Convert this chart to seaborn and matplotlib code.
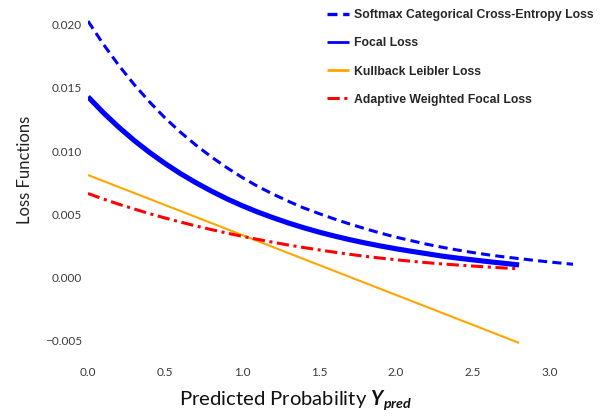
import numpy as np
import pandas as pd
import matplotlib
matplotlib.use("Agg")
import matplotlib.pyplot as plt
import seaborn as sns

# Predicted probability grid shared by the curves
x_grid = [0.0, 0.1, 0.2, 0.3, 0.4, 0.5, 0.6, 0.7, 0.8, 0.9,
          1.0, 1.1, 1.2, 1.3, 1.4, 1.5, 1.6, 1.7, 1.8, 1.9,
          2.0, 2.1, 2.2, 2.3, 2.4, 2.5, 2.6, 2.7, 2.8]

# Softmax categorical cross-entropy runs a little further
x_softmax = x_grid + [2.9, 3.0, 3.15]
softmax_ce = [0.02030, 0.01846, 0.01679, 0.01527, 0.01389, 0.01263, 0.01150, 0.01048,
              0.00955, 0.00870, 0.00792, 0.00722, 0.00660, 0.00603, 0.00550, 0.00505,
              0.00462, 0.00422, 0.00385, 0.00350, 0.00318, 0.00290, 0.00262, 0.00238,
              0.00216, 0.00196, 0.00178, 0.00162, 0.00148, 0.00134, 0.00121, 0.00103]

focal = [0.01430, 0.01304, 0.01189, 0.01084, 0.00989, 0.00902, 0.00822, 0.00750,
         0.00684, 0.00623, 0.00568, 0.00518, 0.00473, 0.00431, 0.00393, 0.00358,
         0.00327, 0.00298, 0.00272, 0.00248, 0.00226, 0.00206, 0.00187, 0.00168,
         0.00152, 0.00138, 0.00124, 0.00111, 0.00098]

x_kl = [0.0, 0.7, 1.4, 2.1, 2.8]
kl = [0.00810, 0.00478, 0.00145, -0.00187, -0.00520]

adaptive_focal = [0.00664, 0.00620, 0.00579, 0.00541, 0.00504, 0.00470, 0.00438, 0.00407,
                  0.00378, 0.00351, 0.00325, 0.00301, 0.00278, 0.00256, 0.00236, 0.00217,
                  0.00199, 0.00182, 0.00166, 0.00152, 0.00139, 0.00127, 0.00116, 0.00106,
                  0.00097, 0.00089, 0.00081, 0.00074, 0.00067]

labels = ["Softmax Categorical Cross-Entropy Loss", "Focal Loss",
          "Kullback Leibler Loss", "Adaptive Weighted Focal Loss"]

sns.set_style("white")
plt.rcParams["font.family"] = ["Lato", "DejaVu Sans"]
plt.rcParams["mathtext.fontset"] = "custom"
plt.rcParams["mathtext.it"] = "Lato:italic:bold"

fig = plt.figure(figsize=(6.07, 4.16), dpi=100)
ax = fig.add_axes([88 / 607, 1 - 359 / 416, (573 - 88) / 607, (359 - 5) / 416])

series = [
    (x_softmax, softmax_ce, labels[0], "blue", 2.2, (3.0, 1.7)),
    (x_grid, focal, labels[1], "blue", 3.7, None),
    (x_kl, kl, labels[2], "orange", 1.5, None),
    (x_grid, adaptive_focal, labels[3], "red", 2.2, (4.0, 1.5, 1.0, 1.5)),
]

for xs, ys, lab, col, lw, dash in series:
    df = pd.DataFrame({"x": xs, "y": ys})
    sns.lineplot(data=df, x="x", y="y", ax=ax, color=col, lw=lw, label=lab)
    line = ax.lines[-1]
    if dash is not None:
        line.set_dashes(dash)
    line.set_solid_capstyle("butt")

ax.margins(x=0)
ax.set_xticks([0.0, 0.5, 1.0, 1.5, 2.0, 2.5, 3.0])
ax.set_yticks([-0.005, 0.0, 0.005, 0.010, 0.015, 0.020])
ax.set_yticklabels(["\u22120.005", "0.000", "0.005", "0.010", "0.015", "0.020"])
ax.set_xticklabels(["0.0", "0.5", "1.0", "1.5", "2.0", "2.5", "3.0"])
ax.tick_params(axis="both", length=0, labelsize=8.5, colors="#3a3a3a")
ax.tick_params(axis="x", pad=6)
ax.tick_params(axis="y", pad=4.5)
sns.despine(ax=ax, left=True, bottom=True)

ax.set_ylabel("Loss Functions", fontsize=12, color="#222222")
ax.yaxis.set_label_coords(-(88 - 33) / 485, 0.5 + 12 / 354)
ax.set_xlabel(r"Predicted Probability $\mathit{Y}_{\mathit{pred}}$", fontsize=14.6,
              color="#111111")
ax.xaxis.set_label_coords((296 - 88) / 485, -(400 - 359) / 354)
ax.xaxis.label.set_verticalalignment("center")

leg = ax.legend(loc="upper left", bbox_to_anchor=(327 / 607, 1 - 9 / 416),
                bbox_transform=fig.transFigure, frameon=False, borderpad=0,
                borderaxespad=0, handlelength=1.8, handletextpad=0.45,
                labelspacing=1.33,
                prop={"family": "Liberation Sans", "weight": "bold", "size": 8.8})
for h, w in zip(leg.legend_handles, [2.4, 2.0, 2.0, 2.2]):
    h.set_linewidth(w)

fig.savefig("out.png", dpi=100)
